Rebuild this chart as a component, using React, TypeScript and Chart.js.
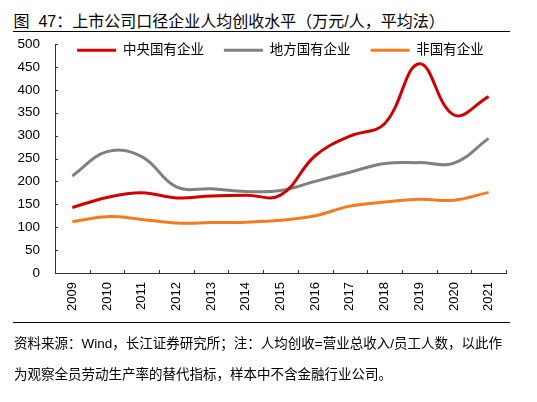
import { useEffect, useRef } from "react";
import { Chart, registerables } from "chart.js";

Chart.register(...registerables);

const FONT = '"Liberation Sans", "Noto Sans CJK SC", Arial, sans-serif';

// 2009-2021，万元/人
const years = ["2009", "2010", "2011", "2012", "2013", "2014", "2015", "2016", "2017", "2018", "2019", "2020", "2021"];
const centralSoe = [143, 165, 175, 164, 168, 170, 170, 256, 299, 326, 457, 345, 385];
const localSoe = [212, 265, 254, 188, 184, 178, 180, 200, 220, 239, 241, 240, 294];
const nonSoe = [112, 123, 117, 109, 110, 111, 115, 125, 146, 155, 161, 159, 176];
const seriesNames = ["中央国有企业", "地方国有企业", "非国有企业"];
const yMin = 0;
const yMax = 500;
const yStep = 50;

// small tick marks pointing into the plot, like the original
const innerTicks = {
  id: "innerTicks",
  afterDraw(chart: any) {
    const { ctx, chartArea, scales } = chart;
    ctx.save();
    ctx.strokeStyle = "#333";
    ctx.lineWidth = 1;
    ctx.beginPath();
    scales.y.ticks.forEach((t: any) => {
      const py = Math.round(scales.y.getPixelForValue(t.value)) + 0.5;
      ctx.moveTo(chartArea.left, py);
      ctx.lineTo(chartArea.left + 3, py);
    });
    for (let i = 0; i <= years.length; i++) {
      const px = Math.round(scales.x.getPixelForValue(i - 0.5)) + 0.5;
      ctx.moveTo(px, chartArea.bottom);
      ctx.lineTo(px, chartArea.bottom - 3);
    }
    ctx.stroke();
    ctx.restore();
  },
};

// legend sits inside the plot area instead of taking its own row
const legendOverlay = {
  id: "legendOverlay",
  beforeInit(chart: any) {
    const legend = chart.legend;
    const fit = legend.fit;
    legend.fit = function () {
      fit.call(this);
      this.height = 0;
    };
  },
  afterLayout(chart: any) {
    // the legend clips to its own box, so give it room again after layout
    chart.legend.top = 23.5;
    chart.legend.bottom = 23.5 + 50;
  },
};

const App = () => {
  const chartRef = useRef<HTMLCanvasElement | null>(null);

  useEffect(() => {
    document.body.style.margin = "0";
    if (!chartRef.current) return;

    const chart = new Chart(chartRef.current, {
      type: "line",
      data: {
        labels: years,
        datasets: [
          { label: seriesNames[0], data: centralSoe, borderColor: "#D00000", backgroundColor: "#D00000" },
          { label: seriesNames[1], data: localSoe, borderColor: "#808080", backgroundColor: "#808080" },
          { label: seriesNames[2], data: nonSoe, borderColor: "#F47B20", backgroundColor: "#F47B20" },
        ],
      },
      options: {
        responsive: false,
        animation: false,
        layout: { padding: { left: 0, right: 31, top: 44, bottom: 69 } },
        elements: {
          line: { borderWidth: 3, tension: 0.4, cubicInterpolationMode: "default" },
          point: { radius: 0, hoverRadius: 0 },
        },
        scales: {
          x: {
            type: "category",
            offset: true,
            grid: { display: false, drawTicks: false },
            border: { display: true, color: "#333", width: 1 },
            ticks: {
              autoSkip: false,
              minRotation: 90,
              maxRotation: 90,
              padding: 9,
              color: "#000",
              font: { family: FONT, size: 13 },
            },
            afterFit: (scale: any) => {
              scale.height = 60;
            },
          },
          y: {
            min: yMin,
            max: yMax,
            grid: { display: false, drawTicks: false },
            border: { display: true, color: "#333", width: 1 },
            ticks: {
              stepSize: yStep,
              padding: 15,
              color: "#000",
              font: { family: FONT, size: 13.5 },
            },
            afterFit: (scale: any) => {
              scale.width = 55;
            },
          },
        },
        plugins: {
          legend: {
            position: "top",
            fullSize: false,
            labels: {
              boxWidth: 39,
              boxHeight: 3,
              padding: 20,
              color: "#000",
              font: { family: FONT, size: 13.5 },
              generateLabels: (c: any) =>
                Chart.defaults.plugins.legend.labels
                  .generateLabels(c)
                  .map((item: any) => ({ ...item, lineWidth: 0 })),
            },
          },
          tooltip: { enabled: false },
        },
      },
      plugins: [legendOverlay, innerTicks],
    });

    return () => {
      chart.destroy();
    };
  }, []);

  return (
    <div style={{ position: "relative", width: 537, height: 402, background: "#fff", color: "#000", fontFamily: FONT }}>
      <div style={{ position: "absolute", left: 13.5, top: 12, fontSize: 16, lineHeight: "20px", whiteSpace: "pre" }}>
        图  47：上市公司口径企业人均创收水平（万元/人，平均法）
      </div>
      <div style={{ position: "absolute", left: 13, top: 31, width: 497, height: 1, background: "#000" }} />
      <canvas ref={chartRef} width={537} height={402} style={{ position: "absolute", left: 0, top: 0 }} />
      <div style={{ position: "absolute", left: 13, top: 322, width: 497, height: 1, background: "#000" }} />
      <div style={{ position: "absolute", left: 14, top: 327.5, fontSize: 13.5, lineHeight: "31px", whiteSpace: "nowrap" }}>
        <div>资料来源：Wind，长江证券研究所；注：人均创收=营业总收入/员工人数，以此作</div>
        <div>为观察全员劳动生产率的替代指标，样本中不含金融行业公司。</div>
      </div>
    </div>
  );
};

export default App;
